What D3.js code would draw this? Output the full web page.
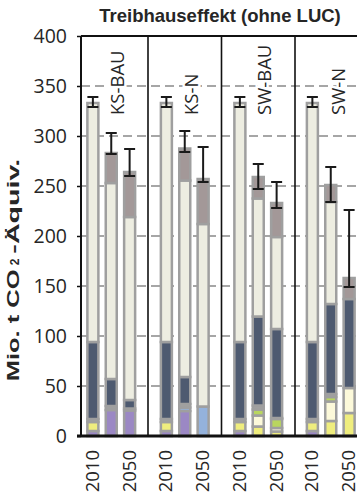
<!DOCTYPE html>
<html><head><meta charset="utf-8">
<script src="https://cdn.jsdelivr.net/npm/d3@7"></script>
<style>html,body{margin:0;padding:0;background:#fff;} svg{display:block;}</style>
</head><body>
<svg id="c" width="357" height="497"></svg>
<script>
// ---- data ----
const scenarios = ["KS-BAU", "KS-N", "SW-BAU", "SW-N"];
const slots = ["a", "b", "c"];
const slotLabels = ["2010", "", "2050"];
const yTicks = [0, 50, 100, 150, 200, 250, 300, 350, 400];
const seriesKeys = ["purple", "blue", "yellow", "cream", "green", "gray", "dark", "light", "mauve"];
// values per bar (KS-BAU a,b,c, KS-N a,b,c, SW-BAU a,b,c, SW-N a,b,c)
const purple = [5, 26, 25.5, 5, 25, 0, 5, 0, 0, 5, 0, 0];
const blue   = [0, 0, 0, 0, 3.5, 29.5, 0, 0, 0, 0, 0, 0];
const yellow = [9, 0, 0, 9, 0, 0, 9, 9.5, 4.5, 9, 15, 23];
const cream  = [0, 0, 0, 0, 0, 0, 0, 11, 3.5, 0, 19.5, 25];
const green  = [0, 0, 0, 0, 0, 0, 0, 6, 9, 0, 4.5, 0];
const gray   = [3, 4, 2, 3, 3.5, 0, 3, 4, 1, 3, 3, 0];
const dark   = [77, 27, 8.5, 77, 27, 0, 77, 89, 89, 77, 90, 89];
const light  = [239, 196, 183, 239, 196.5, 182.5, 239, 118, 92, 239, 102, 0];
const mauve  = [0, 30, 45, 0, 32, 45, 0, 21.5, 34, 0, 17, 21];
const errLow  = [329, 282, 260, 329, 284, 254, 329, 247, 228, 329, 234, 149];
const errHigh = [339, 303, 287, 339, 305, 289, 339, 272, 254, 339, 269, 226];

const seriesVals = {purple, blue, yellow, cream, green, gray, dark, light, mauve};
const colors = {
  purple: "#9b88c4", blue: "#94b2dc", yellow: "#efed7e", cream: "#fcf9da",
  green: "#b9d65e", gray: "#a0a0a0", dark: "#4e5a70", light: "#edede1", mauve: "#a39898"
};

const rows = [];
scenarios.forEach((s, si) => slots.forEach((sl, ki) => {
  const i = si * 3 + ki;
  const r = {scen: s, slot: sl, label: slotLabels[ki], lo: errLow[i], hi: errHigh[i]};
  seriesKeys.forEach(k => r[k] = seriesVals[k][i]);
  rows.push(r);
}));

// ---- layout ----
const svg = d3.select("#c");
const y = d3.scaleLinear().domain([0, 400]).range([436, 36]);
const panel = d3.scaleBand().domain(scenarios).range([74.5, 368.5]);
const slot = d3.scalePoint().domain(slots).range([0, panel.bandwidth()]).padding(1);
const cx = d => panel(d.scen) + slot(d.slot) - (d.scen === "SW-N" ? 1 : 0);
const bw = 11;
const xL = 81, xR = 357;

// gridlines
svg.append("g").selectAll("line").data(yTicks.filter(v => v > 0 && v < 400)).join("line")
  .attr("x1", xL).attr("x2", xR).attr("y1", d => y(d)).attr("y2", d => y(d))
  .attr("stroke", "#a6a6a6").attr("stroke-width", 2).attr("stroke-dasharray", "9,5");

// bars
const stacked = d3.stack().keys(seriesKeys)(rows);
svg.append("g").selectAll("g").data(stacked).join("g")
  .attr("fill", d => colors[d.key])
  .selectAll("rect").data(d => d.filter(p => p[1] - p[0] > 0)).join("rect")
  .attr("x", p => cx(p.data) - bw / 2).attr("width", bw)
  .attr("y", p => y(p[1])).attr("height", p => y(p[0]) - y(p[1]))
  .attr("stroke", "#9f9f9f").attr("stroke-width", 2.5);

// error bars
const eg = svg.append("g").attr("stroke", "#1a1a1a").attr("stroke-width", 2);
eg.selectAll("line.v").data(rows).join("line").attr("class", "v")
  .attr("x1", cx).attr("x2", cx).attr("y1", d => y(d.lo)).attr("y2", d => y(d.hi));
eg.selectAll("line.t").data(rows).join("line").attr("class", "t")
  .attr("x1", d => cx(d) - 5.5).attr("x2", d => cx(d) + 5.5).attr("y1", d => y(d.hi)).attr("y2", d => y(d.hi));
eg.selectAll("line.b").data(rows).join("line").attr("class", "b")
  .attr("x1", d => cx(d) - 5.5).attr("x2", d => cx(d) + 5.5).attr("y1", d => y(d.lo)).attr("y2", d => y(d.lo));

// panel separators
svg.append("g").selectAll("line").data(scenarios.slice(1)).join("line")
  .attr("x1", d => panel(d)).attr("x2", d => panel(d)).attr("y1", y(400)).attr("y2", y(0))
  .attr("stroke", "#111").attr("stroke-width", 1.6);

// frame lines
svg.append("line").attr("x1", xL).attr("x2", xR).attr("y1", y(400)).attr("y2", y(400)).attr("stroke", "#111").attr("stroke-width", 2);
svg.append("line").attr("x1", xL).attr("x2", xL).attr("y1", y(400)).attr("y2", y(0) + 1).attr("stroke", "#111").attr("stroke-width", 2);
svg.append("line").attr("x1", 77).attr("x2", xR).attr("y1", y(0)).attr("y2", y(0)).attr("stroke", "#111").attr("stroke-width", 3);

// y axis
const ya = svg.append("g").attr("transform", `translate(${xL},0)`)
  .call(d3.axisLeft(y).tickValues(yTicks).tickSize(4).tickPadding(10));
ya.select(".domain").remove();
ya.selectAll(".tick line").attr("stroke", "#111").attr("stroke-width", 1.5);
ya.selectAll("text").attr("font-family", "'Open Sans', sans-serif").attr("font-size", 19.5).attr("fill", "#262626");

// x labels
svg.append("g").selectAll("text").data(rows.filter(d => d.label)).join("text")
  .attr("transform", d => `translate(${cx(d)},450) rotate(-90)`)
  .attr("dy", "0.33em").attr("text-anchor", "end")
  .attr("font-family", "'Open Sans', sans-serif").attr("font-size", 18.5).attr("fill", "#262626")
  .text(d => d.label);

// scenario labels
svg.append("g").selectAll("text").data(scenarios).join("text")
  .attr("transform", d => `translate(${panel(d) + panel.bandwidth() / 2 + 13},${y(321)}) rotate(-90)`)
  .attr("text-anchor", "start")
  .attr("font-family", "'Open Sans', sans-serif").attr("font-size", 18.5).attr("fill", "#262626")
  .attr("stroke", "#fff").attr("stroke-width", 5).attr("paint-order", "stroke")
  .text(d => d);

// title
svg.append("text").attr("x", 220).attr("y", 22).attr("text-anchor", "middle")
  .attr("font-family", "'Liberation Sans', Arial, sans-serif").attr("font-weight", "bold")
  .attr("font-size", 18.5).attr("fill", "#262626").text("Treibhauseffekt (ohne LUC)");

// y title
const yt = svg.append("text").attr("transform", "translate(19,270) rotate(-90)")
  .attr("text-anchor", "middle")
  .attr("font-family", "'Liberation Sans', Arial, sans-serif").attr("font-weight", "bold")
  .attr("font-size", 17).attr("fill", "#262626");
yt.append("tspan").attr("textLength", 112).attr("lengthAdjust", "spacingAndGlyphs").text("Mio. t CO");
yt.append("tspan").attr("font-size", 12).attr("dx", 4).text("2");
yt.append("tspan").attr("dx", 5).attr("textLength", 95).attr("lengthAdjust", "spacingAndGlyphs").text("-Äquiv.");
</script>
</body></html>
